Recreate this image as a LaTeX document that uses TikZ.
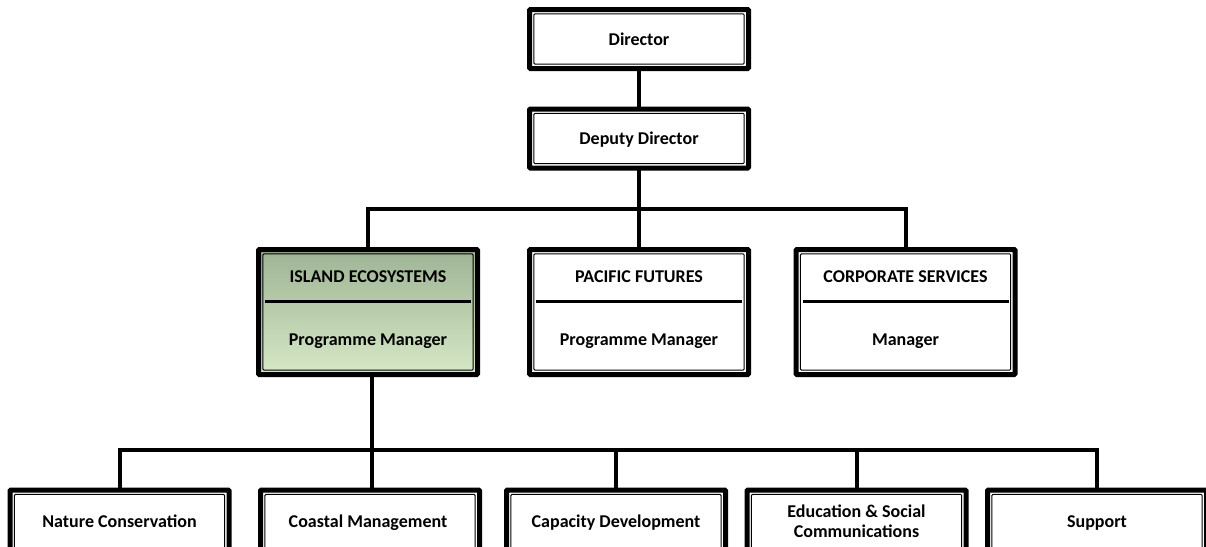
\documentclass[tikz,border=0pt]{standalone}
\usepackage{fontspec}
\setmainfont{Carlito}
\begin{document}
\begin{tikzpicture}[x=1pt,y=-1pt,
  orgbox/.style={draw=black, line width=5pt, fill=white, minimum width=219pt, inner sep=0pt,
    rounded corners=1pt,
    path picture={\draw[line width=1pt] ([shift={(4.4pt,-4.4pt)}]path picture bounding box.north west) rectangle ([shift={(-4.4pt,4.4pt)}]path picture bounding box.south east);}},
  topbox/.style={orgbox, minimum height=59pt},
  midbox/.style={orgbox, minimum height=125pt},
  lowbox/.style={orgbox, minimum height=78pt},
  conn/.style={line width=4pt, line cap=rect},
  lbl/.style={font=\bfseries\fontsize{18}{20}\selectfont, align=center, inner sep=0pt, anchor=base},
  divider/.style={line width=3pt}
]
\useasboundingbox (0,0) rectangle (1206,546);
\clip (0,0) rectangle (1206,546);
\definecolor{ietop}{RGB}{158,180,148}
\definecolor{iebot}{RGB}{214,232,198}

\node[topbox] (dir) at (639,39) {};
\node[topbox] (dep) at (639,138.5) {};

\node[midbox, top color=ietop, bottom color=iebot] (ie) at (368,312) {};
\node[midbox] (pf) at (639,312) {};
\node[midbox] (cs) at (905.5,312) {};

\node[lowbox] (nc) at (119.5,529) {};
\node[lowbox] (cm) at (370,529) {};
\node[lowbox] (cd) at (616,529) {};
\node[lowbox] (es) at (856.5,529) {};
\node[lowbox] (su) at (1097,529) {};

% connectors
\coordinate (bus1) at (639,209);
\coordinate (ieb) at (372,377);
\coordinate (bus2l) at (119.5,450);
\coordinate (bus2r) at (1097,450);
\draw[conn] (dir.south) -- (dep.north);
\draw[conn] (dep.south) -- (bus1) -| (ie.north);
\draw[conn] (bus1) -| (cs.north);
\draw[conn] (bus1) -- (pf.north);
\draw[conn] (ieb) -- (ieb |- cm.north);
\draw[conn] (bus2l) -- (bus2r);
\draw[conn] (bus2l) -- (nc.north);
\draw[conn] (cd.north |- bus2l) -- (cd.north);
\draw[conn] (es.north |- bus2l) -- (es.north);
\draw[conn] (bus2r) -- (su.north);

% labels
\node[lbl] (dirt) at (639,45) {Director};
\node[lbl] (dept) at (639,144) {Deputy Director};
\node[lbl] (ie1) at (368,282) {ISLAND ECOSYSTEMS};
\node[lbl] (ie2) at (368,345) {Programme Manager};
\draw[divider] (265,301) -- (471,301);
\node[lbl] (pf1) at (639,282) {PACIFIC FUTURES};
\node[lbl] (pf2) at (639,345) {Programme Manager};
\draw[divider] (536,301) -- (742,301);
\node[lbl] (cs1) at (905.5,282) {CORPORATE SERVICES};
\node[lbl] (cs2) at (905.5,345) {Manager};
\draw[divider] (802.5,301) -- (1008.5,301);

\node[lbl] (nct) at (119.5,527) {Nature Conservation};
\node[lbl] (cmt) at (368,527) {Coastal Management};
\node[lbl] (cdt) at (616,527) {Capacity Development};
\node[lbl] (est1) at (856.5,517) {Education \& Social};
\node[lbl] (est2) at (856.5,537) {Communications};
\node[lbl] (sut) at (1097,527) {Support};
\end{tikzpicture}
\end{document}
